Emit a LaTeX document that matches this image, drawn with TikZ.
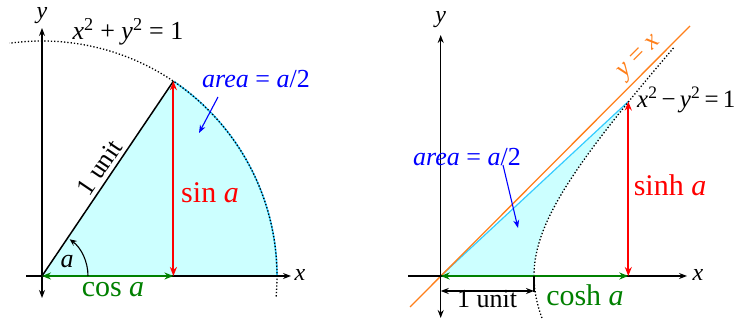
\documentclass[tikz,border=0pt]{standalone}
\usepackage{fontspec}
\setmainfont{Liberation Serif}
\usetikzlibrary{arrows.meta}
\definecolor{fillcyan}{HTML}{CCFFFF}
\definecolor{edgeblue}{HTML}{33CCFF}
\definecolor{dgreen}{HTML}{008000}
\definecolor{orng}{HTML}{FF7F1A}
\begin{document}
\begin{tikzpicture}[x=1pt,y=1pt,
  axis/.style={line width=1.1pt,-{Stealth[length=8pt,width=6pt]}},
  axisb/.style={line width=1.1pt,{Stealth[length=8pt,width=6pt]}-{Stealth[length=8pt,width=6pt]}},
  dotc/.style={line width=1.3pt,dash pattern=on 1.3pt off 2pt},
  dbl/.style={line width=2pt,{Stealth[length=9pt,width=7pt]}-{Stealth[length=9pt,width=7pt]}},
  big/.style={font=\fontsize{30}{36}\selectfont,inner sep=0pt},
  mid/.style={font=\fontsize{26}{31}\selectfont,inner sep=0pt},
  sml/.style={font=\fontsize{24}{29}\selectfont,inner sep=0pt},
  ]
\useasboundingbox (0,0) rectangle (737,320);
% ---------------- left: circle ----------------
\coordinate (OL) at (42,44);
\path (OL) ++(56:235) coordinate (PL);
\path (PL |- OL) coordinate (CL);
\coordinate (xl0) at (26,44);
\coordinate (xl1) at (291,44);
\coordinate (yl0) at (42,22);
\coordinate (yl1) at (42,292);
\fill[fillcyan] (OL) -- (PL) arc[start angle=56,end angle=0,radius=235] -- cycle;
\draw[edgeblue,line width=1.6pt] (PL) arc[start angle=56,end angle=0,radius=235];
\draw[dotc] (OL) ++(-5:235) arc[start angle=-5,end angle=98,radius=235];
\draw[axis] (xl0) -- (xl1);
\draw[axisb] (yl0) -- (yl1);
\draw[line width=1.5pt] (OL) -- (PL);
\draw[dbl,red] (CL) -- (PL);
\draw[dbl,dgreen] (OL) -- (CL);
\draw[line width=1.1pt,-{Stealth[length=7pt,width=6pt]}] (OL) ++(46,0) arc[start angle=0,end angle=53,radius=46];
\node[sml] (xL) at (300,45) {\textit{x}};
\node[sml] (yL) at (42,304) {\textit{y}};
\node[mid] (circ) at (128,288) {\textit{x}\textsuperscript{2} + \textit{y}\textsuperscript{2} = 1};
\node[mid,blue] (areaL) at (256,241) {\textit{area} = \textit{a}/2};
\coordinate (arL) at (199,187);
\draw[blue,line width=1.1pt,-{Stealth[length=8pt,width=6pt]}] (218,223) -- (arL);
\node[mid,rotate=56] (unitL) at (99.5,152.5) {1 unit};
\node[big,red] (sinL) at (210,127) {sin \textit{a}};
\node[big,dgreen] (cosL) at (113,30) {cos \textit{a}};
\node[mid] (aL) at (67,58) {\textit{a}};
% ---------------- right: hyperbola ----------------
\coordinate (OR) at (440.7,44);
\coordinate (PR) at (628.3,218.5);
\path (PR |- OR) coordinate (CR);
\coordinate (VR) at (534,44);
\coordinate (xr0) at (408,44);
\coordinate (xr1) at (687,44);
\coordinate (yr0) at (440.7,2);
\coordinate (yr1) at (440.7,285);
\coordinate (yx0) at (410,13);
\coordinate (yx1) at (690,294);
\coordinate (u0) at (440.7,29);
\coordinate (u1) at (534,29);
\coordinate (tk) at (534,28);
\fill[fillcyan] (OR) -- (PR) -- plot[domain=1.745:0,samples=40,variable=\t] ({440.7+100*sqrt(0.8705+0.875*\t*\t)},{44+100*\t}) -- cycle;
\draw[edgeblue,line width=1.2pt] (OR) -- (PR);
\draw[orng,line width=1.3pt] (yx0) -- (yx1);
\draw[dotc] plot[domain=-0.42:2.29,samples=80,variable=\t] ({440.7+100*sqrt(0.8705+0.875*\t*\t)},{44+100*\t});
\draw[axis] (xr0) -- (xr1);
\draw[axisb] (yr0) -- (yr1);
\draw[dbl,red] (CR) -- (PR);
\draw[dbl,dgreen] (OR) -- (CR);
\draw[line width=1.3pt,{Stealth[length=8pt,width=6pt]}-{Stealth[length=8pt,width=6pt]}] (u0) -- (u1);
\draw[line width=1.1pt] (VR) -- (tk);
\node[sml] (xR) at (698,45) {\textit{x}};
\node[sml] (yR) at (440.7,300) {\textit{y}};
\node[mid,orng,rotate=45] (yxR) at (640,262) {\textit{y} = \textit{x}};
\node[font=\fontsize{25}{30}\selectfont,inner sep=0pt,anchor=west] (hypR) at (637,220) {\textit{x}\textsuperscript{2}\,\char"2212\,\textit{y}\textsuperscript{2}\,=\,1};
\node[mid,blue] (areaR) at (467,163) {\textit{area} = \textit{a}/2};
\coordinate (arR) at (518,92);
\draw[blue,line width=1.1pt,-{Stealth[length=8pt,width=6pt]}] (503,155) -- (arR);
\node[mid] (unitR) at (487,21) {1 unit};
\node[big,dgreen] (coshR) at (585,25) {cosh \textit{a}};
\node[big,red] (sinhR) at (670,135) {sinh \textit{a}};
\end{tikzpicture}
\end{document}
